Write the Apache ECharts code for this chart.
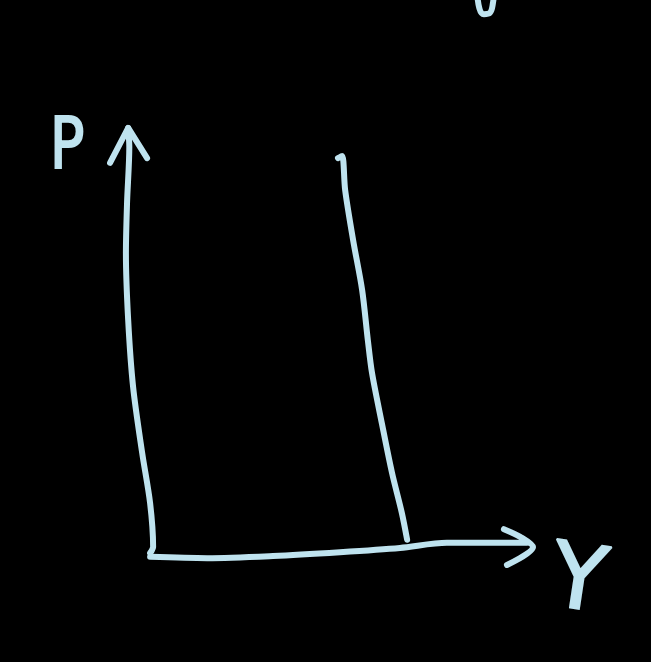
<!DOCTYPE html>
<html>
<head>
<meta charset="utf-8">
<script src="https://cdn.jsdelivr.net/npm/echarts@6/dist/echarts.min.js"></script>
<style>html,body{margin:0;padding:0;background:#000;}#c{width:651px;height:662px;}</style>
</head>
<body>
<div id="c"></div>
<script>
// Sketch traced in chart units: Y (output) on x, P (price level) on y
var axisLabels = { x: 'Y', y: 'P' };
var priceAxisStroke = [[-0.05,0.07],[0,0.14],[0.03,0.21],[-0.05,1.24],[-0.26,2.42],[-0.50,3.97],[-0.63,5.54],[-0.69,7.11],[-0.66,8.29],[-0.60,9.6],[-0.63,10.05]];
var priceArrowHead = [[-1.11,9.23],[-0.63,10.05],[-0.13,9.34]];
var outputAxisStroke = [[-0.05,-0.02],[1.46,-0.05],[3.20,0],[4.97,0.09],[6.56,0.19],[7.80,0.31],[9.92,0.31]];
var outputArrowHead = [[9.31,0.63],[9.74,0.45],[10.08,0.21],[9.39,-0.21]];
var verticalCurve = [[4.92,9.34],[5.03,9.39],[5.11,8.59],[5.32,7.42],[5.56,6.24],[5.71,5.07],[5.82,4.30],[6.08,3.12],[6.35,1.95],[6.61,1.01],[6.75,0.38]];
var topFragment = [[8.60,13.3],[8.66,12.86],[8.78,12.72],[8.94,12.75],[9.02,12.98],[9.05,13.3]];

var ink = '#bfe3ef';
function stroke(data, smooth) {
  return {
    type: 'line', data: data, symbol: 'none', smooth: smooth, clip: false, silent: true,
    lineStyle: { color: ink, width: 6, cap: 'round', join: 'round' }
  };
}
var chart = echarts.init(document.getElementById('c'));
chart.setOption({
  backgroundColor: '#000',
  animation: false,
  grid: { left: 0, right: 0, top: 0, bottom: 0 },
  xAxis: { type: 'value', min: -4.021, max: 13.201, show: false },
  yAxis: { type: 'value', min: -2.488, max: 13.052, show: false },
  graphic: [
    { type: 'text', x: 67, y: 149, scaleX: 0.8, style: { text: axisLabels.y, fill: ink, stroke: ink, lineWidth: 2, font: '72px "DejaVu Sans"', textAlign: 'center', textVerticalAlign: 'middle' } },
    { type: 'text', x: 578, y: 585, rotation: -0.15, style: { text: axisLabels.x, fill: ink, stroke: ink, lineWidth: 2, font: '90px "DejaVu Sans"', textAlign: 'center', textVerticalAlign: 'middle' } }
  ],
  series: [
    stroke(priceAxisStroke, 0.3),
    stroke(priceArrowHead, false),
    stroke(outputAxisStroke, 0.3),
    stroke(outputArrowHead, 0.3),
    stroke(verticalCurve, 0.3),
    stroke(topFragment, 0.4)
  ]
});
</script>
</body>
</html>
